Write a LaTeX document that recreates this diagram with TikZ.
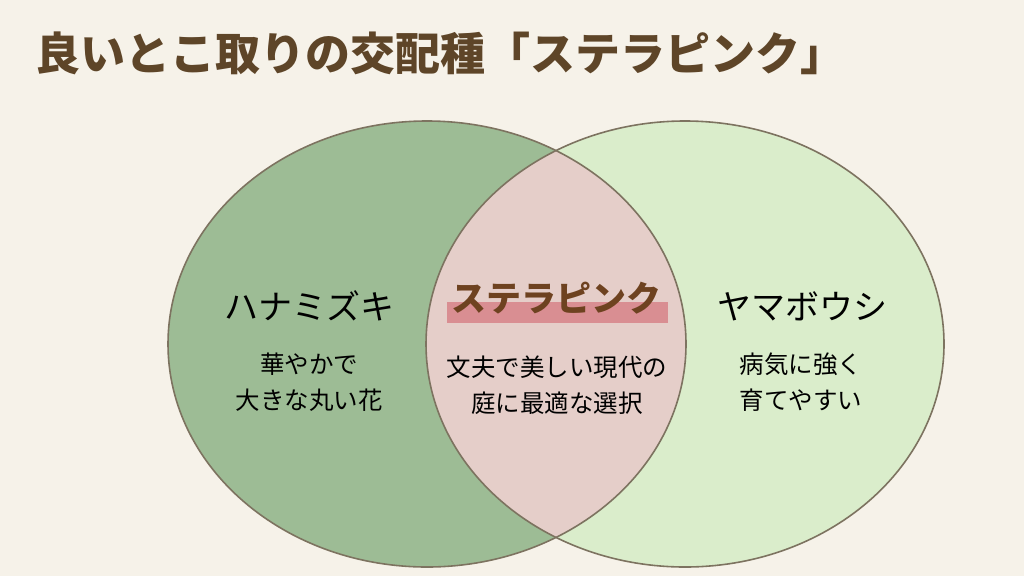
\documentclass[tikz,border=0pt]{standalone}
\usepackage{fontspec}
\usepackage{tikz}
\newfontfamily\jpfont{Noto Sans CJK JP}
\definecolor{paper}{HTML}{F6F2E9}
\definecolor{leafdark}{HTML}{9DBC95}
\definecolor{leaflight}{HTML}{DAEDCB}
\definecolor{blush}{HTML}{E5CEC9}
\definecolor{rim}{HTML}{7D7360}
\definecolor{bark}{HTML}{5E4528}
\definecolor{stella}{HTML}{6E4220}
\definecolor{marker}{HTML}{D98E92}

\begin{document}
\begin{tikzpicture}[x=1pt,y=-1pt,
  kind/.style={font=\jpfont\fontsize{34}{40}\selectfont,text=black,inner sep=0},
  note/.style={font=\jpfont\fontsize{24.5}{36}\selectfont,text=black,align=center,inner sep=0}]

\fill [paper] (0,0) rectangle (1024,576);
\useasboundingbox (0,0) rectangle (1024,576);

\node (title) [anchor=west,inner sep=0,text=bark,font=\jpfont\bfseries\fontsize{45}{50}\selectfont] at (35,53) {良いとこ取りの交配種「ステラピンク」};

\fill [leafdark] (427,344) ellipse [x radius=259, y radius=223];
\fill [leaflight] (685,344) ellipse [x radius=259, y radius=223];
\begin{scope}
\clip (427,344) ellipse [x radius=259, y radius=223];
\fill [blush] (685,344) ellipse [x radius=259, y radius=223];
\end{scope}
\draw [rim,line width=1.6] (427,344) ellipse [x radius=259, y radius=223];
\draw [rim,line width=1.6] (685,344) ellipse [x radius=259, y radius=223];

% left side
\node (hana) [kind] at (309,306) {ハナミズキ};
\node (hananote) [note] at (309,382) {華やかで\\大きな丸い花};

% middle
\fill [marker] (447,302) rectangle (668,323);
\node (stella) [inner sep=0,text=stella,font=\jpfont\bfseries\fontsize{35}{40}\selectfont] at (556,298) {ステラピンク};
\node (stellanote) [note] at (557,385) {文夫で美しい現代の\\庭に最適な選択};

% right side
\node (yama) [kind] at (802,306) {ヤマボウシ};
\node (yamanote) [note] at (801,382) {病気に強く\\育てやすい};

\end{tikzpicture}
\end{document}
